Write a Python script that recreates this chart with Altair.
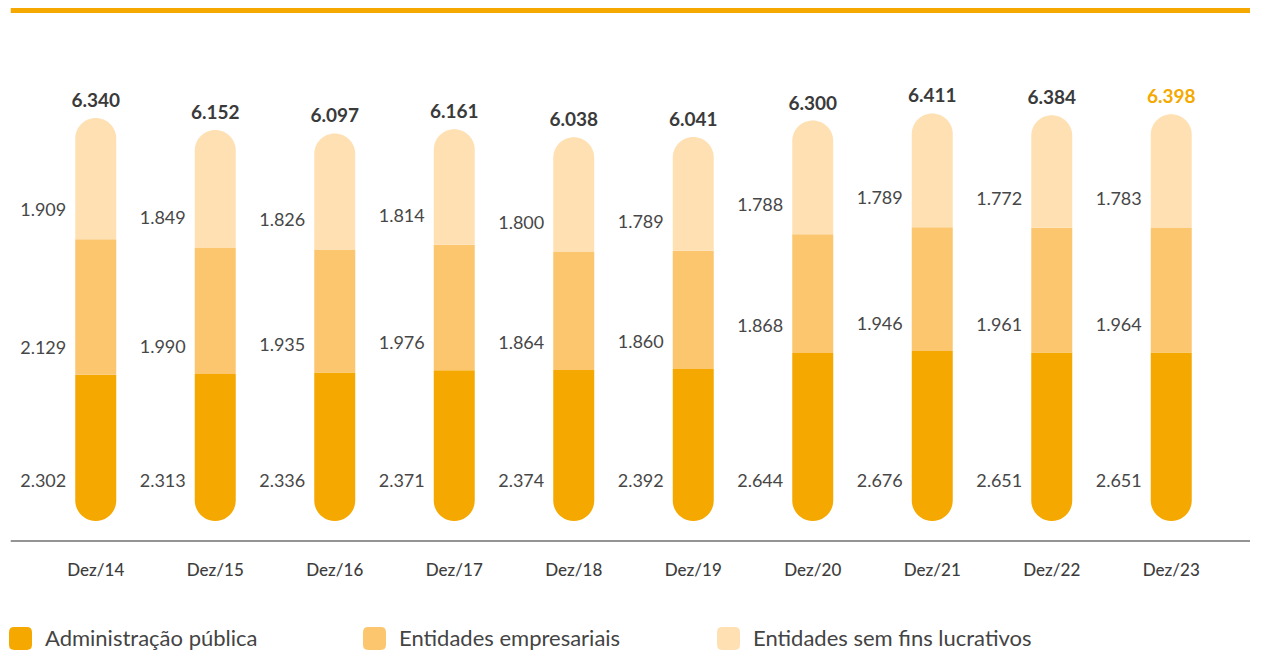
import altair as alt
import pandas as pd

anos = ["Dez/14", "Dez/15", "Dez/16", "Dez/17", "Dez/18",
        "Dez/19", "Dez/20", "Dez/21", "Dez/22", "Dez/23"]
admin_publica = [2302, 2313, 2336, 2371, 2374, 2392, 2644, 2676, 2651, 2651]
ent_empresariais = [2129, 1990, 1935, 1976, 1864, 1860, 1868, 1946, 1961, 1964]
ent_sem_fins = [1909, 1849, 1826, 1814, 1800, 1789, 1788, 1789, 1772, 1783]

series = ["Administração pública", "Entidades empresariais", "Entidades sem fins lucrativos"]
cores = ["#F5A800", "#FBC66E", "#FEE0B3"]

rows = []
for i, a in enumerate(anos):
    for j, vals in enumerate([admin_publica, ent_empresariais, ent_sem_fins]):
        rows.append({"ano": a, "serie": series[j], "ordem": j, "valor": vals[i]})
df = pd.DataFrame(rows)

W, H = 1195, 445
YMAX = 7000
R = 20.5
FONT = "Lato"
fmt = "replace(format(datum.valor, ','), ',', '.')"

x_enc = alt.X(
    "ano:N", sort=anos,
    scale=alt.Scale(paddingInner=0.657, paddingOuter=0.3285),
    axis=alt.Axis(title=None, labelAngle=0, ticks=False, domain=False, grid=False,
                  labelPadding=41, labelFont=FONT, labelFontSize=17,
                  labelColor="#3d3d3d", labelFontWeight=500),
)
y_scale = alt.Scale(domain=[0, YMAX])

rounded_square = ("M -0.55,-1 L 0.55,-1 Q 1,-1 1,-0.55 L 1,0.55 Q 1,1 0.55,1 "
                  "L -0.55,1 Q -1,1 -1,0.55 L -1,-0.55 Q -1,-1 -0.55,-1 Z")

color_enc = alt.Color(
    "serie:N",
    scale=alt.Scale(domain=series, range=cores),
    legend=alt.Legend(
        title=None, orient="none", legendX=-27, legendY=551,
        direction="horizontal", columns=3, gridAlign="all", columnPadding=39,
        symbolType=rounded_square, symbolSize=529, symbolStrokeWidth=0,
        symbolOpacity=1, labelFont=FONT, labelFontSize=22, labelColor="#444444",
        labelOffset=13, labelLimit=400,
    ),
)

base = alt.Chart(df).transform_stack(
    stack="valor", groupby=["ano"], as_=["y0", "y1"],
    sort=[alt.SortField("ordem", order="ascending")],
)

enc = dict(
    x=x_enc,
    y=alt.Y("y0:Q", scale=y_scale, axis=None),
    y2="y1:Q",
    color=color_enc,
)

bar_bottom = base.transform_filter(alt.datum.ordem == 0).mark_bar(
    cornerRadiusBottomLeft=R, cornerRadiusBottomRight=R).encode(**enc)
bar_mid = base.transform_filter(alt.datum.ordem == 1).mark_bar().encode(**enc)
bar_top = base.transform_filter(alt.datum.ordem == 2).mark_bar(
    cornerRadiusTopLeft=R, cornerRadiusTopRight=R).encode(**enc)


def seg_label(ordem, dy):
    return base.transform_filter(alt.datum.ordem == ordem).transform_calculate(
        rotulo=fmt
    ).mark_text(
        align="right", baseline="middle", dx=-29.5, dy=dy,
        font=FONT, fontSize=18, color="#474747",
    ).encode(
        x=x_enc,
        y=alt.Y("y0:Q", scale=y_scale, axis=None),
        text="rotulo:N",
    )


lab0 = seg_label(0, -39)
lab1 = seg_label(1, -26)
lab2 = seg_label(2, -28)

totals = alt.Chart(df).transform_aggregate(
    total="sum(valor)", groupby=["ano"]
).transform_calculate(
    rotulo="replace(format(datum.total, ','), ',', '.')"
).mark_text(
    baseline="middle", dy=-17, font=FONT, fontSize=19, fontWeight="bold",
).encode(
    x=x_enc,
    y=alt.Y("total:Q", scale=y_scale, axis=None),
    text="rotulo:N",
    color=alt.condition(alt.datum.ano == "Dez/23", alt.value("#F5A800"), alt.value("#3a3a3a")),
)

top_line = alt.Chart(alt.Data(values=[{}])).mark_rule(
    color="#F5A800", strokeWidth=5
).encode(x=alt.value(-25.25), x2=alt.value(1214), y=alt.value(-65.5))

axis_line = alt.Chart(alt.Data(values=[{}])).mark_rule(
    color="#707070", strokeWidth=1.5
).encode(x=alt.value(-25.25), x2=alt.value(1214), y=alt.value(H + 20))

chart = alt.layer(
    bar_bottom, bar_mid, bar_top, lab0, lab1, lab2, totals, top_line, axis_line
).properties(
    width=W, height=H, padding=0
).configure_view(strokeWidth=0)

chart.save("out.html", embed_options={"renderer": "svg", "actions": False})
